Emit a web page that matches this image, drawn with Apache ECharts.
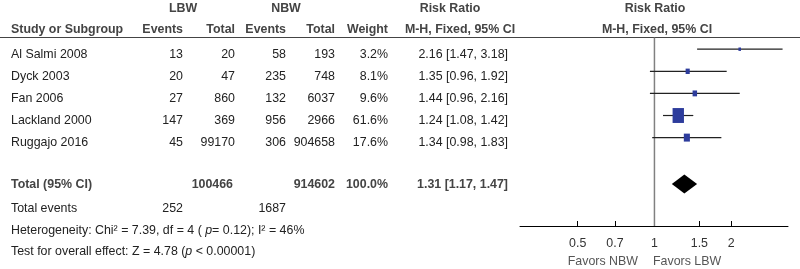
<!DOCTYPE html>
<html>
<head>
<meta charset="utf-8">
<script src="https://cdn.jsdelivr.net/npm/echarts@6/dist/echarts.min.js"></script>
<style>
  html, body { margin: 0; padding: 0; background: #fff; }
  #chart { width: 800px; height: 269px; }
</style>
</head>
<body>
<div id="chart"></div>
<script>
// study rows
const studies = ['Al Salmi 2008', 'Dyck 2003', 'Fan 2006', 'Lackland 2000', 'Ruggajo 2016']
const lbwEvents = [13, 20, 27, 147, 45]
const lbwTotal = [20, 47, 860, 369, 99170]
const nbwEvents = [58, 235, 132, 956, 306]
const nbwTotal = [193, 748, 6037, 2966, 904658]
const weights = [3.2, 8.1, 9.6, 61.6, 17.6]
const riskRatio = [2.16, 1.35, 1.44, 1.24, 1.34]
const ciLow = [1.47, 0.96, 0.96, 1.08, 0.98]
const ciHigh = [3.18, 1.92, 2.16, 1.42, 1.83]

// pooled result
const pooled = { rr: 1.31, lo: 1.17, hi: 1.47, lbwTotal: 100466, nbwTotal: 914602, weight: 100.0, lbwEvents: 252, nbwEvents: 1687 }

const axisTicks = [0.5, 0.7, 1, 1.5, 2]

const FONT = '"Liberation Sans", Arial, Helvetica, sans-serif'
const FS = '12.4px '
const TXT = '#222'
const HEAD = '#444'
const BLUE = '#2D3C9C'

// table layout (text only)
const rowY = [55, 77, 99, 121, 143]
const colRight = { ev1: 183, tot1: 235, ev2: 286, tot2: 335, weight: 388, ci: 508 }

function txt(text, x, y, align, bold, color) {
  return {
    type: 'text', x: x, y: y, silent: true,
    style: {
      text: text, align: align || 'left', verticalAlign: 'middle',
      font: (bold ? 'bold ' : '') + FS + FONT, fill: color || TXT
    }
  }
}

function richTxt(text, x, y) {
  return {
    type: 'text', x: x, y: y, silent: true,
    style: {
      text: text,
      verticalAlign: 'middle',
      rich: {
        n: { font: FS + FONT, fill: TXT },
        i: { font: 'italic ' + FS + FONT, fill: TXT }
      }
    }
  }
}

const fmtCI = (r, l, h) => `${r.toFixed(2)} [${l.toFixed(2)}, ${h.toFixed(2)}]`

let graphics = [
  txt('LBW', 183, 9, 'center', true, HEAD),
  txt('NBW', 286, 9, 'center', true, HEAD),
  txt('Risk Ratio', 450, 9, 'center', true, HEAD),
  txt('Risk Ratio', 655, 9, 'center', true, HEAD),
  txt('Study or Subgroup', 11, 30, 'left', true, HEAD),
  txt('Events', colRight.ev1, 30, 'right', true, HEAD),
  txt('Total', colRight.tot1, 30, 'right', true, HEAD),
  txt('Events', colRight.ev2, 30, 'right', true, HEAD),
  txt('Total', colRight.tot2, 30, 'right', true, HEAD),
  txt('Weight', colRight.weight, 30, 'right', true, HEAD),
  txt('M-H, Fixed, 95% CI', 460, 30, 'center', true, HEAD),
  txt('M-H, Fixed, 95% CI', 657, 30, 'center', true, HEAD),
  {
    type: 'line', silent: true,
    shape: { x1: 0, y1: 37.5, x2: 800, y2: 37.5 },
    style: { stroke: '#444', lineWidth: 1.2 }
  }
]

studies.forEach((s, i) => {
  const y = rowY[i]
  graphics.push(
    txt(s, 11, y),
    txt(String(lbwEvents[i]), colRight.ev1, y, 'right'),
    txt(String(lbwTotal[i]), colRight.tot1, y, 'right'),
    txt(String(nbwEvents[i]), colRight.ev2, y, 'right'),
    txt(String(nbwTotal[i]), colRight.tot2, y, 'right'),
    txt(weights[i].toFixed(1) + '%', colRight.weight, y, 'right'),
    txt(fmtCI(riskRatio[i], ciLow[i], ciHigh[i]), colRight.ci, y, 'right')
  )
})

graphics.push(
  txt('Total (95% CI)', 11, 185, 'left', true, HEAD),
  txt(String(pooled.lbwTotal), colRight.tot1 - 2, 185, 'right', true, HEAD),
  txt(String(pooled.nbwTotal), colRight.tot2, 185, 'right', true, HEAD),
  txt(pooled.weight.toFixed(1) + '%', colRight.weight, 185, 'right', true, HEAD),
  txt(fmtCI(pooled.rr, pooled.lo, pooled.hi), colRight.ci, 185, 'right', true, HEAD),
  txt('Total events', 11, 209),
  txt(String(pooled.lbwEvents), colRight.ev1, 209, 'right'),
  txt(String(pooled.nbwEvents), colRight.ev2, 209, 'right'),
  richTxt('{n|Heterogeneity: Chi² = 7.39, df = 4 ( }{i|p}{n|= 0.12); I² = 46%}', 11, 231),
  richTxt('{n|Test for overall effect: Z = 4.78 (}{i|p}{n| < 0.00001)}', 11, 252),
  txt('Favors NBW', 638, 262, 'right', false, '#555'),
  txt('Favors LBW', 653, 262, 'left', false, '#555')
)

// plot data: [low, high, estimate, row, weight]
const studyData = studies.map((s, i) => [ciLow[i], ciHigh[i], riskRatio[i], i, weights[i]])
const pooledRow = 6.1

const chart = echarts.init(document.getElementById('chart'))
chart.setOption({
  animation: false,
  grid: { left: 520, right: 12, top: 37.5, bottom: 43 },
  xAxis: {
    type: 'log',
    min: 0.297,
    max: 3.34,
    axisLine: { onZero: false, lineStyle: { color: '#000', width: 1 } },
    axisTick: { customValues: axisTicks, inside: true, length: 5, lineStyle: { color: '#000' } },
    axisLabel: {
      customValues: axisTicks, margin: 12, color: '#333', fontSize: 12.4, fontFamily: FONT,
      formatter: v => String(+(+v).toFixed(2))
    },
    splitLine: { show: false },
    minorTick: { show: false }
  },
  yAxis: {
    type: 'value', inverse: true, min: -0.53, max: 8, show: false
  },
  graphic: graphics,
  series: [
    {
      // line of no effect
      type: 'custom',
      data: [[1]],
      z: 1,
      renderItem(params, api) {
        const a = api.coord([api.value(0), -0.53])
        const b = api.coord([api.value(0), 8])
        return {
          type: 'line',
          shape: { x1: a[0], y1: a[1], x2: b[0], y2: b[1] },
          style: { stroke: '#808080', lineWidth: 1.5 }
        }
      }
    },
    {
      type: 'custom',
      data: studyData,
      z: 3,
      renderItem(params, api) {
        const lo = api.coord([api.value(0), api.value(3)])
        const hi = api.coord([api.value(1), api.value(3)])
        const c = api.coord([api.value(2), api.value(3)])
        const s = Math.sqrt(api.value(4))
        const w = 1.45 * s
        const h = 1.9 * s
        return {
          type: 'group',
          children: [
            {
              type: 'line',
              shape: { x1: lo[0], y1: lo[1], x2: hi[0], y2: hi[1] },
              style: { stroke: '#222', lineWidth: 1.2 }
            },
            {
              type: 'rect',
              shape: { x: c[0] - w / 2, y: c[1] - h / 2, width: w, height: h },
              style: { fill: BLUE }
            }
          ]
        }
      }
    },
    {
      type: 'custom',
      data: [[pooled.lo, pooled.hi, pooled.rr, pooledRow]],
      z: 3,
      renderItem(params, api) {
        const lo = api.coord([api.value(0), api.value(3)])
        const hi = api.coord([api.value(1), api.value(3)])
        const c = api.coord([api.value(2), api.value(3)])
        const hh = 9.5
        return {
          type: 'polygon',
          shape: { points: [[lo[0], lo[1]], [c[0], c[1] - hh], [hi[0], hi[1]], [c[0], c[1] + hh]] },
          style: { fill: '#000' }
        }
      }
    }
  ]
})
</script>
</body>
</html>
